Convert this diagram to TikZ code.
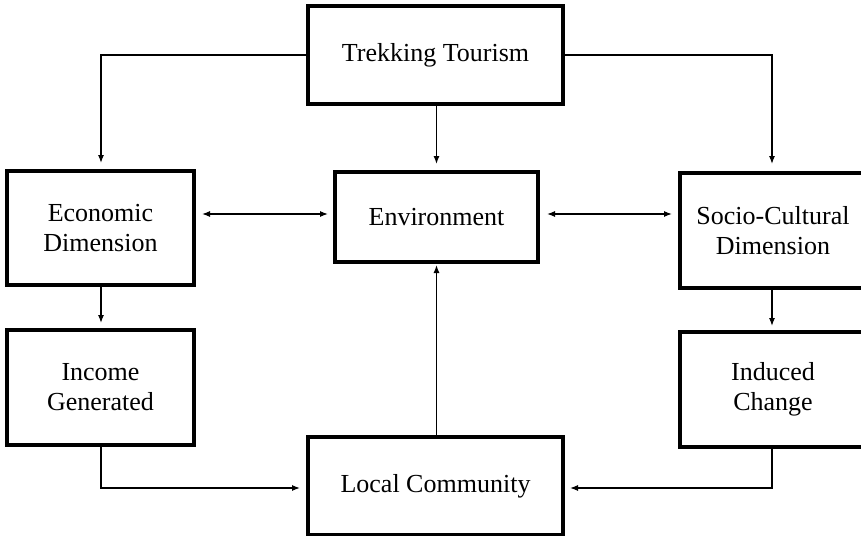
\documentclass[tikz,border=0pt]{standalone}
\usepackage{fontspec}
\setmainfont{Liberation Serif}
\usetikzlibrary{arrows.meta}
\begin{document}
\begin{tikzpicture}[x=1pt,y=-1pt,
  box/.style={draw=black, line width=3.4pt, inner sep=0pt, outer sep=0pt, align=center,
    font=\fontsize{26}{30}\selectfont},
  conn/.style={line width=1.2pt, -{Latex[length=8pt,width=6pt]}},
  dconn/.style={line width=1.2pt, {Latex[length=8pt,width=6pt]}-{Latex[length=8pt,width=6pt]}}]
\useasboundingbox (0,0) rectangle (861,535);
\clip (0,0) rectangle (861,535);
\node[box, minimum width=255pt, minimum height=98pt] (trek) at (435.5,55) {Trekking Tourism};
\node[box, minimum width=187pt, minimum height=114pt] (econ) at (100.5,228) {Economic\\Dimension};
\node[box, minimum width=203pt, minimum height=90pt] (env) at (436.5,217) {Environment};
\node[box, minimum width=186pt, minimum height=115pt] (socio) at (773,230.5) {Socio-Cultural\\Dimension};
\node[box, minimum width=187pt, minimum height=115pt] (income) at (100.5,387.5) {Income\\Generated};
\node[box, minimum width=186pt, minimum height=115pt] (induced) at (773,389.5) {Induced\\Change};
\node[box, minimum width=255pt, minimum height=98pt] (local) at (435.5,486) {Local Community};
\coordinate (econtop) at (101,171);
\coordinate (sociotop) at (772,173);
% connectors
\draw[conn, shorten >=8pt] (trek.west) -| (econtop);
\draw[conn, shorten >=9pt] (trek.east) -| (sociotop);
\draw[conn, shorten >=8pt] (env.north |- trek.south) -- (env.north);
\draw[dconn, shorten <=8pt, shorten >=7pt] (econ.east |- 0,214) -- (env.west |- 0,214);
\draw[dconn, shorten <=9pt, shorten >=8pt] (env.east |- 0,214) -- (socio.west |- 0,214);
\draw[conn, shorten >=7pt] (econtop |- econ.south) -- (econtop |- income.north);
\draw[conn, shorten >=6pt] (sociotop |- socio.south) -- (sociotop |- induced.north);
\draw[conn, shorten >=8pt] (econtop |- income.south) |- (local.west |- 0,488);
\draw[conn, shorten >=7pt] (sociotop |- induced.south) |- (local.east |- 0,488);
\draw[conn, shorten >=3pt] (env.south |- local.north) -- (env.south);
\end{tikzpicture}
\end{document}
